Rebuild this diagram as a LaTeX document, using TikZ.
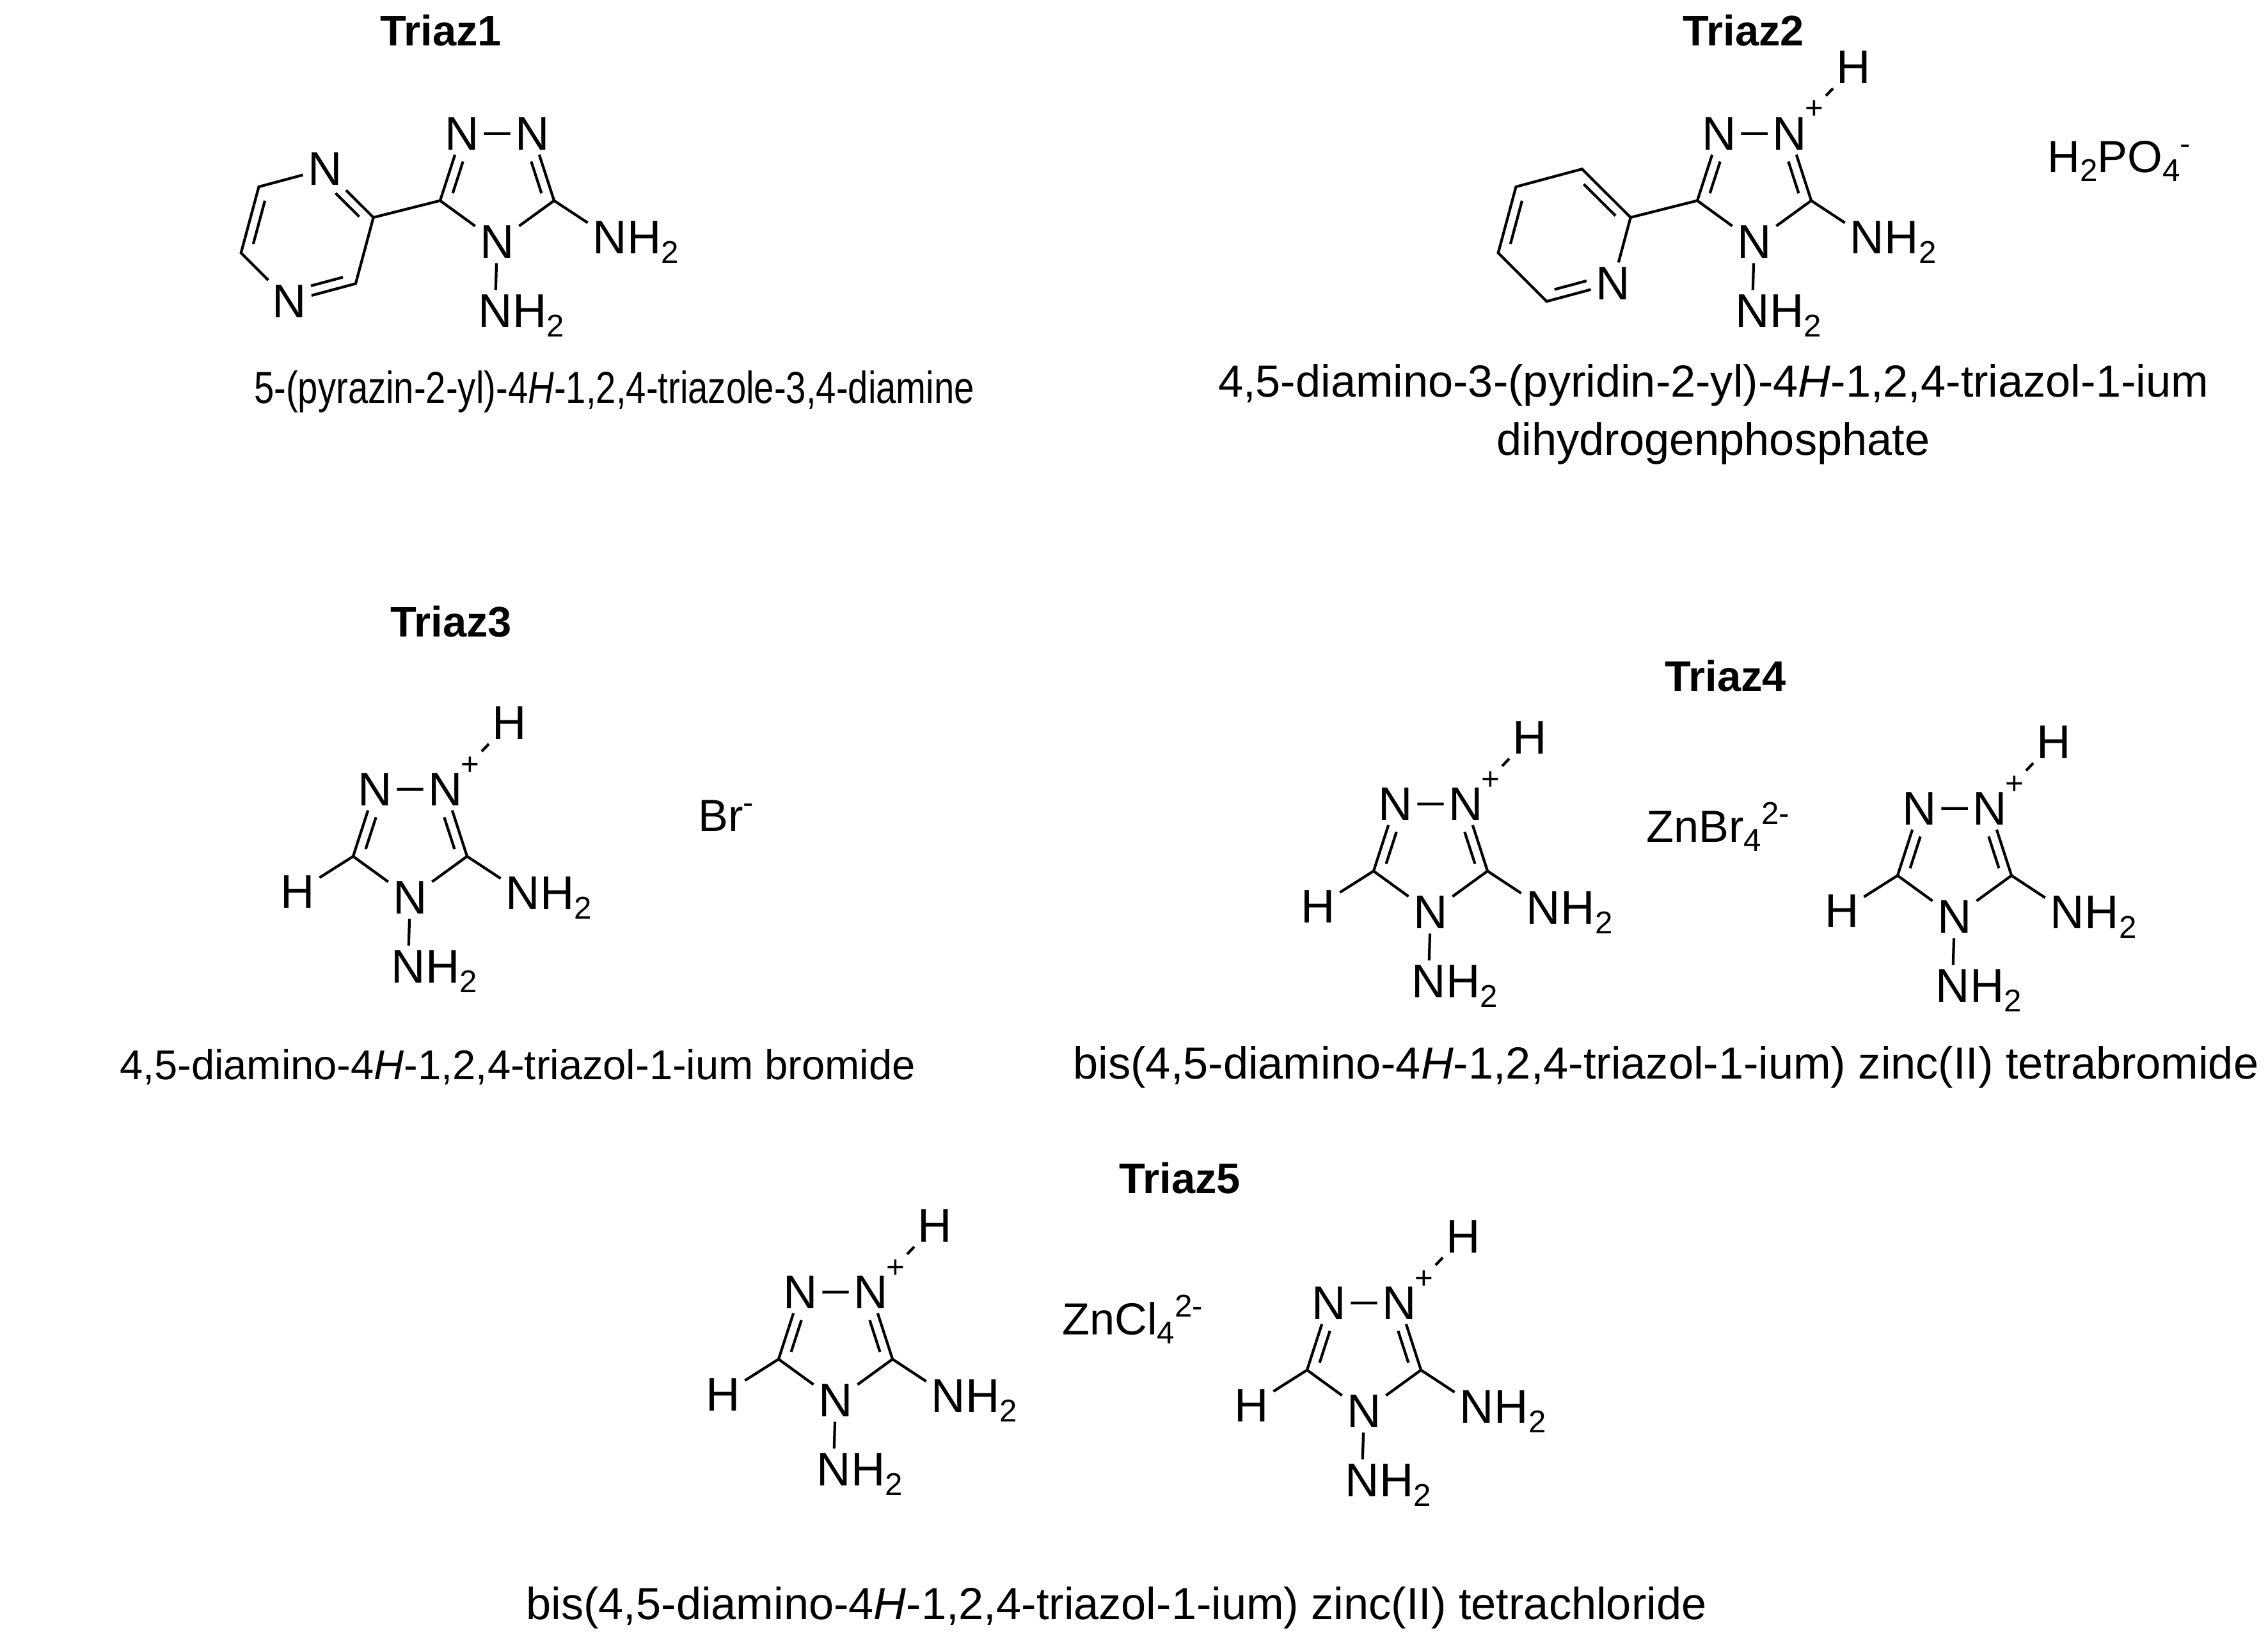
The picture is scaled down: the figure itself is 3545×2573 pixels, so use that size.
\documentclass[tikz,border=0pt]{standalone}
\usepackage{fontspec}
\setmainfont{Liberation Sans}
\usetikzlibrary{calc}
\newcommand\mysub[1]{\raisebox{-0.38ex}{\fontsize{14}{15}\selectfont #1}}
\newcommand\mysup[1]{\raisebox{0.75ex}{\fontsize{14}{15}\selectfont #1}}
\tikzset{
  atom/.style={inner sep=2pt,font=\fontsize{21}{24}\selectfont},
  hsub/.style={inner sep=0pt,anchor=base west,font=\fontsize{21}{24}\selectfont},
  plus/.style={inner sep=0pt,anchor=south west,font=\fontsize{14}{15}\selectfont},
  bond/.style={line width=1.2pt},
  title/.style={font=\fontsize{19}{22}\selectfont\bfseries},
  cname/.style={font=\fontsize{20}{26}\selectfont,align=center},
  ion/.style={font=\fontsize{20}{24}\selectfont}
}
\newcommand\triaz[3]{%
\begin{scope}[shift={(#2,#3)},scale=1.06]
  \coordinate (#1o) at (0,0);
  \node[atom] (#1n1) at (-52,-72) {N};
  \node[atom] (#1n2) at (52,-72) {N};
  \coordinate (#1cr) at (84,27);
  \coordinate (#1cl) at (-84,27);
  \node[atom] (#1n4) at (0,88) {N};
  \node[atom] (#1na) at (166,81) {N};
  \node[hsub] at ([xshift=-2pt]#1na.base east) {H\mysub{2}};
  \node[atom] (#1nb) at (-3,190) {N};
  \node[hsub] at ([xshift=-2pt]#1nb.base east) {H\mysub{2}};
  \draw[bond] (#1n1) -- (#1n2);
  \draw[bond] (#1n2) -- (#1cr) -- (#1n4) -- (#1cl) -- (#1n1);
  \draw[bond] (#1cr) -- (#1na);
  \draw[bond] (#1n4) -- (#1nb);
  \draw[bond,shorten <=0.3cm,shorten >=0.06cm] ($(#1o)!0.8!(-52,-72)$) -- ($(#1o)!0.8!(#1cl)$);
  \draw[bond,shorten <=0.3cm,shorten >=0.06cm] ($(#1o)!0.8!(52,-72)$) -- ($(#1o)!0.8!(#1cr)$);
\end{scope}}
\newcommand\triazH[3]{%
\triaz{#1}{#2}{#3}
\begin{scope}[shift={(#2,#3)},scale=1.06]
  \node[plus] at ([xshift=-3pt,yshift=-3pt]#1n2.north east) {+};
  \node[atom] (#1h1) at (146,-170) {H};
  \node[atom] (#1h2) at (-166,79) {H};
  \draw[bond,shorten <=0.36cm] (#1n2) -- (#1h1);
  \draw[bond] (#1cl) -- (#1h2);
\end{scope}}
\newcommand\hexring[3]{%
\begin{scope}[shift={(#2,#3)},scale=1.06]
  \coordinate (#1c) at (-280,78);
  \coordinate (#1v0) at (-182.4,51.8);
  \coordinate (#1v1) at (-253.9,-19.6);
  \coordinate (#1v2) at (-351.4,6.6);
  \coordinate (#1v3) at (-377.6,104.1);
  \coordinate (#1v4) at (-306.1,175.6);
  \coordinate (#1v5) at (-208.6,149.4);
\end{scope}}
\begin{document}
\begin{tikzpicture}[x=0.01cm,y=-0.01cm]
\useasboundingbox (0,0) rectangle (3545,2573);
% ---------------- Triaz1
\node[title] (t1) at (689,48) {Triaz1};
\triaz{a}{777}{285}
\hexring{ap}{777}{285}
\node[atom] (apn1) at (apv1) {N};
\node[atom] (apn4) at (apv4) {N};
\draw[bond] (apv0) -- (apn1) -- (apv2) -- (apv3) -- (apn4) -- (apv5) -- (apv0);
\draw[bond] (apv0) -- (acl);
\draw[bond,shorten <=0.08cm,shorten >=0.3cm] ($(apc)!0.84!(apv0)$) -- ($(apc)!0.84!(apv1)$);
\draw[bond,shorten <=0.1cm,shorten >=0.1cm] ($(apc)!0.84!(apv2)$) -- ($(apc)!0.84!(apv3)$);
\draw[bond,shorten <=0.3cm,shorten >=0.08cm] ($(apc)!0.84!(apv4)$) -- ($(apc)!0.84!(apv5)$);
\node[cname,xscale=0.8] (n1) at (960,612) {5-(pyrazin-2-yl)-4\textit{H}-1,2,4-triazole-3,4-diamine};
% ---------------- Triaz2
\node[title] (t2) at (2725,48) {Triaz2};
\triaz{b}{2742}{285}
\node[plus] at ([xshift=-3pt,yshift=-3pt]bn2.north east) {+};
\node[atom] (bh1) at ($(2742,285)+(155,-180)$) {H};
\draw[bond,shorten <=0.36cm] (bn2) -- (bh1);
\hexring{bp}{2742}{285}
\node[atom] (bpn5) at (bpv5) {N};
\draw[bond] (bpv0) -- (bpv1) -- (bpv2) -- (bpv3) -- (bpv4) -- (bpn5) -- (bpv0);
\draw[bond] (bpv0) -- (bcl);
\draw[bond,shorten <=0.1cm,shorten >=0.1cm] ($(bpc)!0.84!(bpv0)$) -- ($(bpc)!0.84!(bpv1)$);
\draw[bond,shorten <=0.1cm,shorten >=0.1cm] ($(bpc)!0.84!(bpv2)$) -- ($(bpc)!0.84!(bpv3)$);
\draw[bond,shorten <=0.08cm,shorten >=0.3cm] ($(bpc)!0.84!(bpv4)$) -- ($(bpc)!0.84!(bpv5)$);
\node[ion] (p2) at (3312,252) {H\mysub{2}PO\mysub{4}\mysup{-}};
\node[cname] (n2) at (2678,648) {4,5-diamino-3-(pyridin-2-yl)-4\textit{H}-1,2,4-triazol-1-ium\\dihydrogenphosphate};
% ---------------- Triaz3
\node[title] (t3) at (705,972) {Triaz3};
\triazH{c}{641}{1310}
\node[ion] (br) at (1135,1275) {Br\mysup{-}};
\node[cname,font=\fontsize{18.5}{22}\selectfont] (n3) at (809,1668) {4,5-diamino-4\textit{H}-1,2,4-triazol-1-ium bromide};
% ---------------- Triaz4
\node[title] (t4) at (2697,1057) {Triaz4};
\triazH{d}{2236}{1333}
\triazH{e}{3055}{1340}
\node[ion] (zb) at (2685,1292) {ZnBr\mysub{4}\mysup{2-}};
\node[cname] (n4) at (2604,1668) {bis(4,5-diamino-4\textit{H}-1,2,4-triazol-1-ium) zinc(II) tetrabromide};
% ---------------- Triaz5
\node[title] (t5) at (1844,1842) {Triaz5};
\triazH{f}{1306}{2096}
\triazH{g}{2132}{2113}
\node[ion] (zc) at (1770,2062) {ZnCl\mysub{4}\mysup{2-}};
\node[cname] (n5) at (1745,2513) {bis(4,5-diamino-4\textit{H}-1,2,4-triazol-1-ium) zinc(II) tetrachloride};
\end{tikzpicture}
\end{document}
